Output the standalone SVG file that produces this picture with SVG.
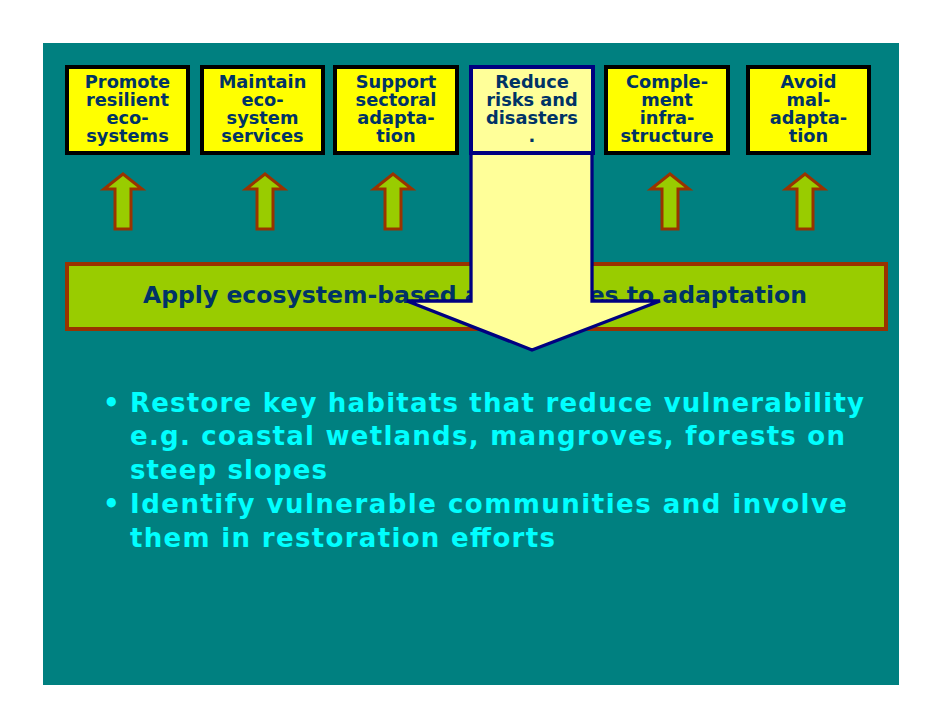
<svg xmlns="http://www.w3.org/2000/svg" width="942" height="728" viewBox="0 0 942 728">
<style>
.bt{font-family:"DejaVu Sans","Verdana",sans-serif;font-weight:bold;font-size:17.8px;fill:#003366;text-anchor:middle}
.box{fill:#FFFF00;stroke:#000000;stroke-width:4}
.up{fill:#99CC00;stroke:#993300;stroke-width:3;stroke-linejoin:miter}
.bl{font-family:"DejaVu Sans","Verdana",sans-serif;font-weight:bold;font-size:26px;fill:#00FFFF}
</style>
<rect x="0" y="0" width="942" height="728" fill="#FFFFFF"/>
<rect x="43" y="43" width="856" height="642" fill="#008080"/>

<g id="connectors">
  <polygon class="up" points="123,174 142,189 131,189 131,229 115,229 115,189 104,189"/>
  <polygon class="up" points="265,174 284,189 273,189 273,229 257,229 257,189 246,189"/>
  <polygon class="up" points="393,174 412,189 401,189 401,229 385,229 385,189 374,189"/>
  <polygon class="up" points="670,174 689,189 678,189 678,229 662,229 662,189 651,189"/>
  <polygon class="up" points="805,174 824,189 813,189 813,229 797,229 797,189 786,189"/>
</g>

<g id="apply">
  <rect x="67" y="264" width="819" height="65" fill="#99CC00" stroke="#993300" stroke-width="4"/>
  <text x="143" y="303" font-family="DejaVu Sans, Verdana, sans-serif" font-weight="bold" font-size="23" fill="#003366" textLength="664" lengthAdjust="spacingAndGlyphs">Apply ecosystem-based approaches to adaptation</text>
</g>

<g id="big-arrow">
  <polygon points="471,153 592,153 592,301 660,301 532,350 407,301 471,301" fill="#FFFF99" stroke="#000080" stroke-width="3.3" stroke-linejoin="miter"/>
</g>

<g id="n1">
  <rect class="box" x="67" y="67" width="121" height="86"/>
  <text class="bt"><tspan x="127.5" y="88">Promote</tspan><tspan x="127.5" y="106">resilient</tspan><tspan x="127.5" y="124">eco-</tspan><tspan x="127.5" y="142">systems</tspan></text>
</g>
<g id="n2">
  <rect class="box" x="202" y="67" width="121" height="86"/>
  <text class="bt"><tspan x="262.5" y="88">Maintain</tspan><tspan x="262.5" y="106">eco-</tspan><tspan x="262.5" y="124">system</tspan><tspan x="262.5" y="142">services</tspan></text>
</g>
<g id="n3">
  <rect class="box" x="335" y="67" width="122" height="86"/>
  <text class="bt"><tspan x="396" y="88">Support</tspan><tspan x="396" y="106">sectoral</tspan><tspan x="396" y="124">adapta-</tspan><tspan x="396" y="142">tion</tspan></text>
</g>
<g id="n4">
  <rect x="471" y="67" width="122" height="86" fill="#FFFF99" stroke="#000080" stroke-width="4"/>
  <text class="bt"><tspan x="532" y="88">Reduce</tspan><tspan x="532" y="106">risks and</tspan><tspan x="532" y="124">disasters</tspan><tspan x="532" y="142">.</tspan></text>
</g>
<g id="n5">
  <rect class="box" x="606" y="67" width="122" height="86"/>
  <text class="bt"><tspan x="667" y="88">Comple-</tspan><tspan x="667" y="106">ment</tspan><tspan x="667" y="124">infra-</tspan><tspan x="667" y="142">structure</tspan></text>
</g>
<g id="n6">
  <rect class="box" x="748" y="67" width="121" height="86"/>
  <text class="bt"><tspan x="808.5" y="88">Avoid</tspan><tspan x="808.5" y="106">mal-</tspan><tspan x="808.5" y="124">adapta-</tspan><tspan x="808.5" y="142">tion</tspan></text>
</g>

<g id="bullets">
  <text class="bl" x="103" y="411.5">•</text>
  <text class="bl" x="130" y="411.5" textLength="734" lengthAdjust="spacing">Restore key habitats that reduce vulnerability</text>
  <text class="bl" x="130" y="445" textLength="715" lengthAdjust="spacing">e.g. coastal wetlands, mangroves, forests on</text>
  <text class="bl" x="130" y="478.5" textLength="197" lengthAdjust="spacing">steep slopes</text>
  <text class="bl" x="103" y="513">•</text>
  <text class="bl" x="130" y="513" textLength="717" lengthAdjust="spacing">Identify vulnerable communities and involve</text>
  <text class="bl" x="130" y="547" textLength="425" lengthAdjust="spacing">them in restoration efforts</text>
</g>
</svg>
